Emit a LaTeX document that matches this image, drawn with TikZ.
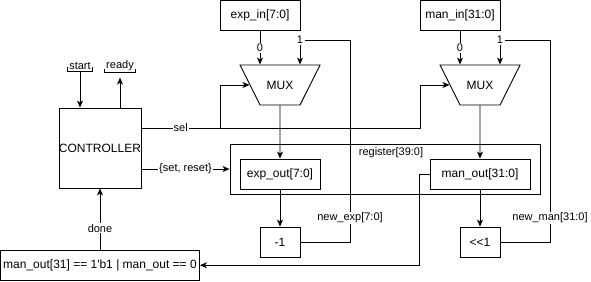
\documentclass[tikz,border=0pt]{standalone}
\usepackage{fontspec}
\setmainfont{Liberation Sans}
\usetikzlibrary{arrows.meta, positioning, shapes.geometric, calc}

\begin{document}
\begin{tikzpicture}[
  x=1pt, y=-1pt, line width=0.9pt,
  box/.style={draw, fill=white, inner sep=0pt, text centered,
              font=\fontsize{12}{14}\selectfont},
  mux/.style={draw, trapezium, shape border rotate=180, trapezium angle=63.43,
              trapezium stretches body, minimum width=80pt, text height=8pt,
              text depth=0pt, inner xsep=0pt, inner ysep=16pt,
              font=\fontsize{12}{14}\selectfont},
  lbl/.style={fill=white, inner sep=1pt, font=\fontsize{11}{13}\selectfont},
  port/.style={inner sep=1pt, font=\fontsize{11}{13}\selectfont,
               append after command={\pgfextra{\draw[line width=0.8pt]
                 ([yshift=4pt]\tikzlastnode.south west) |- (\tikzlastnode.south east)
                 -- ([yshift=4pt]\tikzlastnode.south east);}}},
  arrow/.style={-{Stealth[length=7pt, width=6pt, inset=2pt]}}
]
\useasboundingbox (0,0) rectangle (591,281);

\node[box, minimum width=80pt, minimum height=80pt] (ctrl) at (100,148) {CONTROLLER};
\node[box, minimum width=199pt, minimum height=30.5pt] (cond) at (100,265.25)
  {man\_out[31] == 1\textquotesingle b1 | man\_out == 0};
\node[port] (start) at (80,66) {start};
\node[port] (ready) at (120,66) {ready};

\node[box, minimum width=80pt, minimum height=30pt] (ein) at (260,15.5) {exp\_in[7:0]};
\node[box, minimum width=80pt, minimum height=30pt] (min) at (460,15.5) {man\_in[31:0]};
\node[mux] (emux) at (280,85) {MUX};
\node[mux] (mmux) at (480,85) {MUX};

\node[draw, minimum width=310pt, minimum height=50pt] (reg) at (385,169) {};
\node[lbl, fill=none] (reglbl) at (391,153) {register[39:0]};
\node[box, minimum width=80pt, minimum height=30pt] (eout) at (280,174) {exp\_out[7:0]};
\node[box, minimum width=100pt, minimum height=30pt] (mout) at (480,174) {man\_out[31:0]};

\node[box, minimum width=40pt, minimum height=30pt] (dec) at (280,242) {-1};
\node[box, minimum width=40pt, minimum height=30pt] (shl) at (480,242) {<{}<1};

\node[lbl] (e1) at (300,40) {1};
\node[lbl] (m1) at (500,40) {1};
\coordinate (eback) at (350,40);
\coordinate (mback) at (550,40);
\coordinate (selA) at (220,128);
\coordinate (selB) at (420,128);

\draw[arrow] (start.south) -- (start.south |- ctrl.north);
\draw[arrow, shorten >=5pt] (ctrl.north -| ready) -- (ready.south);

\draw[arrow] (ctrl.east |- selA) -- node[lbl]{sel} (selA) |- (emux.180);
\draw[arrow] (selA) -- (selB) |- (mmux.180);
\draw[arrow] (ctrl.east |- reg.west) -- node[lbl]{\{set, reset\}} (reg.west);

\draw[arrow] (ein.south) -- node[lbl]{0} (ein.south |- emux.north);
\draw[arrow] (e1) -- (e1 |- emux.north);
\draw[arrow] (min.south) -- node[lbl]{0} (min.south |- mmux.north);
\draw[arrow] (m1) -- (m1 |- mmux.north);

\draw[arrow] (emux.south) -- (eout.north);
\draw[arrow] (mmux.south) -- (mout.north);
\draw[arrow] (eout.south) -- (dec.north);
\draw[arrow] (mout.south) -- (shl.north);

\draw (dec.east) -| node[lbl, pos=0.56]{new\_exp[7:0]} (eback) -- (e1);
\draw (shl.east) -| node[lbl, pos=0.56]{new\_man[31:0]} (mback) -- (m1);

\draw[arrow] (mout.west) -- ++(-10,0) |- (cond.east);
\draw[arrow] (cond.north) -- node[lbl, pos=0.35]{done} (ctrl.south);
\end{tikzpicture}
\end{document}
